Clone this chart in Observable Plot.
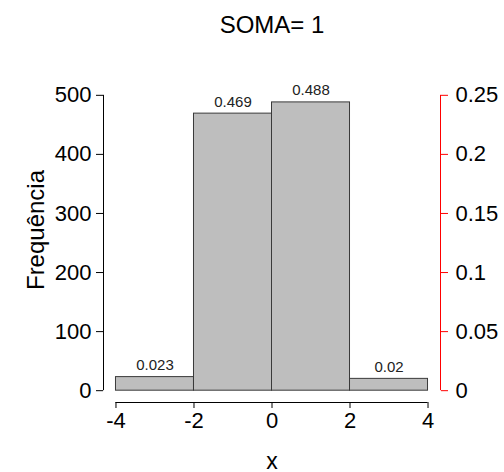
<!DOCTYPE html>
<html><head><meta charset="utf-8">
<script src="https://cdn.jsdelivr.net/npm/d3@7"></script>
<script src="https://cdn.jsdelivr.net/npm/@observablehq/plot@0.6"></script>
<style>
body{margin:0;background:#fff;}
#chart svg{font-family:"Liberation Sans",Arial,Helvetica,sans-serif;}
</style>
</head><body><div id="chart"></div>
<script>
const title = "SOMA= 1";
const xLabel = "x";
const yLabel = "Frequência";
const binStart = [-4, -2, 0, 2];
const binEnd = [-2, 0, 2, 4];
const counts = [23, 469, 488, 20];
const proportions = [0.023, 0.469, 0.488, 0.02];
const xTicks = [-4, -2, 0, 2, 4];
const yTicks = [0, 100, 200, 300, 400, 500];
const densityTicks = [0, 0.05, 0.1, 0.15, 0.2, 0.25];
const nTotal = 1000, binWidth = 2;

const bins = counts.map((c, i) => ({x1: binStart[i], x2: binEnd[i], count: c, p: proportions[i]}));
const xDom = [-4.32, 4.32];
const yDom = [-20, 520];
const font = "Liberation Sans, Arial, sans-serif";

const plot = Plot.plot({
  width: 504, height: 472,
  marginLeft: 103, marginRight: 64, marginTop: 83, marginBottom: 70,
  x: {domain: xDom},
  y: {domain: yDom},
  style: {fontFamily: font, background: "white", color: "black"},
  marks: [
    Plot.rectY(bins, {x1: "x1", x2: "x2", y1: 0, y2: "count", fill: "#bebebe", stroke: "#3a3a3a", strokeWidth: 1}),
    Plot.text(bins, {x: d => (d.x1 + d.x2) / 2, y: "count", text: d => String(d.p), lineAnchor: "bottom", dy: -7, fontSize: 15, fill: "#222"}),
    // left axis
    Plot.ruleX([xDom[0]], {y1: yTicks[0], y2: yTicks[yTicks.length - 1], stroke: "black"}),
    Plot.axisY({anchor: "left", ticks: yTicks, tickSize: 7, tickPadding: 5, fontSize: 22, label: null, tickFormat: d => String(d)}),
    // right axis (density)
    Plot.ruleX([xDom[1]], {y1: densityTicks[0] * nTotal * binWidth, y2: densityTicks[densityTicks.length - 1] * nTotal * binWidth, stroke: "red"}),
    Plot.axisY({anchor: "right", ticks: densityTicks.map(d => d * nTotal * binWidth), tickSize: 7, tickPadding: 8, fontSize: 22, label: null, stroke: "red", fill: "black", tickFormat: (d, i) => String(densityTicks[i])}),
    // bottom axis
    Plot.ruleY([yDom[0]], {x1: xTicks[0], x2: xTicks[xTicks.length - 1], stroke: "black"}),
    Plot.axisX({anchor: "bottom", ticks: xTicks, tickSize: 6, tickPadding: 4, fontSize: 22, label: null, tickFormat: d => String(d)}),
    // axis titles
    Plot.text([xLabel], {frameAnchor: "bottom", dy: 66, lineAnchor: "bottom", fontSize: 23}),
    Plot.text([yLabel], {frameAnchor: "left", rotate: -90, dx: -60, dy: -13, textAnchor: "middle", lineAnchor: "bottom", fontSize: 24}),
    Plot.text([title], {frameAnchor: "top", dy: -51, lineAnchor: "bottom", fontSize: 24})
  ]
});
document.getElementById("chart").appendChild(plot);
</script>
</body></html>
